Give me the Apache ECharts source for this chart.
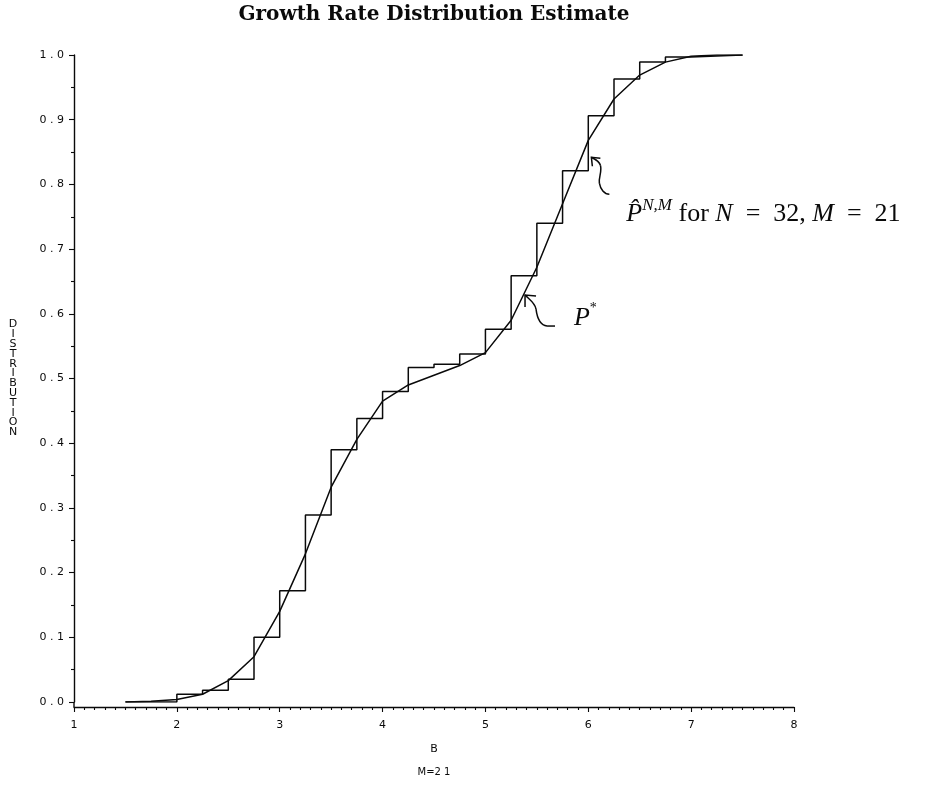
<!DOCTYPE html>
<html>
<head>
<meta charset="utf-8">
<script src="https://cdn.jsdelivr.net/npm/echarts@6/dist/echarts.min.js"></script>
<style>
  html, body { margin: 0; padding: 0; background: #ffffff; }
  #chart { width: 926px; height: 794px; }
</style>
</head>
<body>
<div id="chart"></div>
<script>
// Empirical step estimate P^{N,M}: jump locations (B) and levels reached there
const stepB = [1.5, 2.0, 2.25, 2.5, 2.75, 3.0, 3.25, 3.5, 3.75, 4.0, 4.25, 4.5, 4.75,
               5.0, 5.25, 5.5, 5.75, 6.0, 6.25, 6.5, 6.75, 7.0, 7.5];
const stepP = [0.0, 0.012, 0.018, 0.035, 0.100, 0.172, 0.289, 0.390, 0.438, 0.480, 0.517, 0.522, 0.538,
               0.576, 0.659, 0.740, 0.821, 0.906, 0.963, 0.989, 0.997, 1.0, 1.0];

// Limiting distribution P*
const curveB = [1.5, 1.75, 2.0, 2.25, 2.5, 2.75, 3.0, 3.25, 3.5, 3.75, 4.0, 4.25, 4.5,
                4.75, 5.0, 5.25, 5.5, 5.75, 6.0, 6.25, 6.5, 6.75, 7.0, 7.25, 7.5];
const curveP = [0.0, 0.001, 0.004, 0.012, 0.033, 0.070, 0.140, 0.229, 0.332, 0.406, 0.465, 0.490, 0.505,
                0.520, 0.540, 0.590, 0.672, 0.770, 0.868, 0.932, 0.969, 0.989, 0.998, 1.0, 1.0];

// Tick labels
const xTickLabels = ['1', '2', '3', '4', '5', '6', '7', '8'];
const yTickLabels = ['0 . 0', '0 . 1', '0 . 2', '0 . 3', '0 . 4', '0 . 5',
                     '0 . 6', '0 . 7', '0 . 8', '0 . 9', '1 . 0'];

const chart = echarts.init(document.getElementById('chart'), null, { renderer: 'canvas' });

const INK = '#0a0a0a';
const tickFont = 'DejaVu Sans';

const option = {
  backgroundColor: '#ffffff',
  animation: false,
  grid: { left: 74, right: 132, top: 55, bottom: 92, containLabel: false },
  xAxis: {
    type: 'value', min: 1, max: 8, interval: 1,
    offset: 5,
    name: 'B', nameLocation: 'middle', nameGap: 37,
    nameTextStyle: { fontFamily: tickFont, fontSize: 11, color: INK },
    axisLine: { show: true, onZero: false, lineStyle: { color: INK, width: 1.4 } },
    axisTick: { show: true, inside: false, length: 5, lineStyle: { color: INK, width: 1.1 } },
    minorTick: { show: true, splitNumber: 10, length: 3, lineStyle: { color: INK, width: 1.1 } },
    axisLabel: {
      margin: 13, fontFamily: tickFont, fontSize: 11, color: INK,
      formatter: v => xTickLabels[Math.round(v) - 1]
    },
    splitLine: { show: false }
  },
  yAxis: {
    type: 'value', min: 0, max: 1, interval: 0.1,
    name: 'D\nI\nS\nT\nR\nI\nB\nU\nT\nI\nO\nN',
    nameLocation: 'middle', nameRotate: 0, nameGap: 61,
    nameTextStyle: { fontFamily: tickFont, fontSize: 11, lineHeight: 9.8, color: INK, align: 'center' },
    axisLine: { show: true, lineStyle: { color: INK, width: 1.4 } },
    axisTick: { show: true, inside: false, length: 5, lineStyle: { color: INK, width: 1.1 } },
    minorTick: { show: true, splitNumber: 2, length: 3, lineStyle: { color: INK, width: 1.1 } },
    axisLabel: {
      margin: 10, fontFamily: tickFont, fontSize: 11, color: INK,
      formatter: v => yTickLabels[Math.round(v * 10)]
    },
    splitLine: { show: false }
  },
  series: [
    {
      name: 'estimate',
      type: 'line',
      step: 'end',
      data: stepB.map((b, i) => [b, stepP[i]]),
      showSymbol: false,
      lineStyle: { color: INK, width: 1.5 },
      z: 3
    },
    {
      name: 'limit',
      type: 'line',
      data: curveB.map((b, i) => [b, curveP[i]]),
      showSymbol: false,
      lineStyle: { color: INK, width: 1.5 },
      z: 4
    }
  ]
};

chart.setOption(option);

// Annotations: curly arrows pointing at the two curves, with their math labels
const px = (b, p) => chart.convertToPixel({ gridIndex: 0 }, [b, p]);
const origin = px(1, 0);
const topRight = px(8, 1);
const tip1 = px(6.03, 0.842);
const tip2 = px(5.385, 0.629);
const lab1 = px(6.37, 0.754);
const lab2 = px(5.86, 0.593);
const midX = (origin[0] + topRight[0]) / 2;

const arrowStyle = { stroke: INK, lineWidth: 1.5, fill: null };

// cubic segment helper for bezierCurve elements
const seg = (a, c1, c2, b) => ({
  type: 'bezierCurve',
  shape: { x1: a[0], y1: a[1], cpx1: c1[0], cpy1: c1[1], cpx2: c2[0], cpy2: c2[1], x2: b[0], y2: b[1] },
  style: arrowStyle
});

chart.setOption({
  graphic: [
    {
      type: 'text', x: midX, y: 15,
      style: {
        text: 'Growth Rate Distribution Estimate',
        fontFamily: 'DejaVu Serif', fontWeight: 'bold', fontSize: 20, fill: INK,
        align: 'center', verticalAlign: 'middle'
      }
    },
    {
      // y axis continues down to meet the offset x axis
      type: 'line',
      shape: { x1: origin[0], y1: origin[1], x2: origin[0], y2: origin[1] + 5 },
      style: { stroke: INK, lineWidth: 1.4 }
    },
    {
      type: 'group', x: tip1[0], y: tip1[1],
      children: [
        seg([0, 0], [4, 2], [8, 4], [9, 8]),
        seg([9, 8], [11, 14], [7, 20], [8, 26]),
        seg([8, 26], [9, 32], [13, 37], [18, 37]),
        { type: 'polyline', shape: { points: [[9, 1], [0, 0], [1, 9]] }, style: arrowStyle }
      ]
    },
    {
      type: 'group', x: tip2[0], y: tip2[1],
      children: [
        seg([0, 0], [5, 5], [10, 8], [11, 14]),
        seg([11, 14], [12, 22], [14, 30], [22, 31]),
        { type: 'line', shape: { x1: 22, y1: 31, x2: 30, y2: 31 }, style: arrowStyle },
        { type: 'polyline', shape: { points: [[0, 12], [0, 0], [11, 1]] }, style: arrowStyle }
      ]
    },
    {
      type: 'text', x: lab1[0], y: lab1[1],
      style: {
        text: '{p|P\u0302}{s|N,M}{r| for }{i|N}{r|  =  32, }{i|M}{r|  =  21}',
        verticalAlign: 'middle',
        rich: {
          p: { fontFamily: 'Liberation Serif', fontStyle: 'italic', fontSize: 26, lineHeight: 34, fill: INK },
          s: { fontFamily: 'Liberation Serif', fontStyle: 'italic', fontSize: 17, verticalAlign: 'top', fill: INK },
          r: { fontFamily: 'Liberation Serif', fontSize: 26, lineHeight: 34, fill: INK },
          i: { fontFamily: 'Liberation Serif', fontStyle: 'italic', fontSize: 26, lineHeight: 34, fill: INK }
        }
      }
    },
    {
      type: 'text', x: lab2[0], y: lab2[1],
      style: {
        text: '{p|P}{s|*}',
        verticalAlign: 'middle',
        rich: {
          p: { fontFamily: 'Liberation Serif', fontStyle: 'italic', fontSize: 26, lineHeight: 34, fill: INK },
          s: { fontFamily: 'Liberation Serif', fontSize: 14, verticalAlign: 'top', fill: INK }
        }
      }
    },
    {
      type: 'text', x: midX, y: 772,
      style: {
        text: 'M=2 1', fontFamily: tickFont, fontSize: 10, fill: INK,
        align: 'center', verticalAlign: 'middle'
      }
    }
  ]
});
</script>
</body>
</html>
